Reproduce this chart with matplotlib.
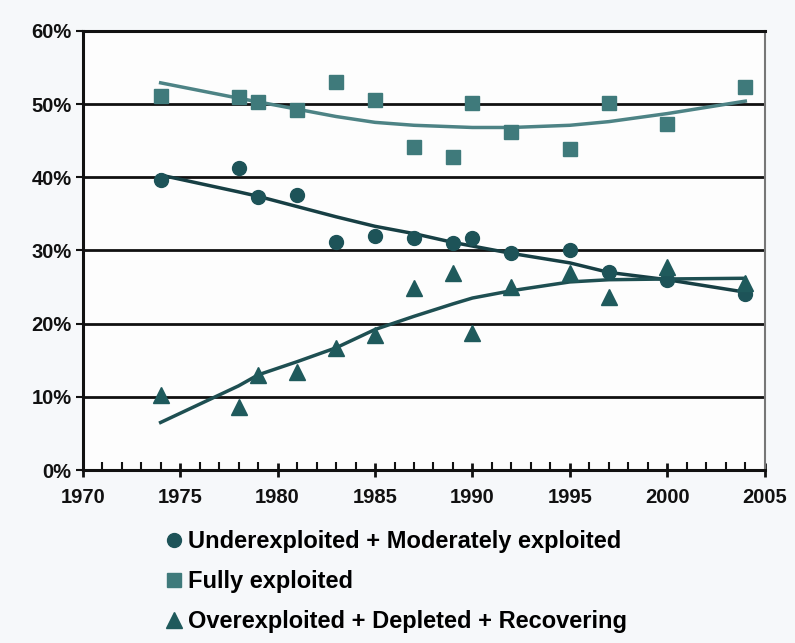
import matplotlib.pyplot as plt
from matplotlib.ticker import MultipleLocator, FuncFormatter
from matplotlib.lines import Line2D

# годы наблюдений
years = [1974, 1978, 1979, 1981, 1983, 1985, 1987, 1989, 1990, 1992, 1995, 1997, 2000, 2004]

# доли запасов, %
under = [39.6, 41.2, 37.3, 37.6, 31.1, 32.0, 31.7, 31.0, 31.7, 29.6, 30.0, 27.0, 26.0, 24.0]
fully = [51.1, 51.0, 50.3, 49.2, 53.0, 50.6, 44.2, 42.8, 50.2, 46.2, 43.9, 50.2, 47.3, 52.3]
over = [10.2, 8.6, 13.0, 13.4, 16.7, 18.4, 24.9, 26.9, 18.7, 25.0, 26.9, 23.6, 27.7, 25.6]

# линии тренда
under_trend = [40.3, 38.0, 37.4, 36.0, 34.6, 33.3, 32.3, 31.1, 30.6, 29.6, 28.3, 27.0, 26.0, 24.3]
fully_trend = [52.9, 50.8, 50.3, 49.3, 48.3, 47.5, 47.1, 46.9, 46.8, 46.8, 47.1, 47.6, 48.7, 50.4]
over_trend = [6.5, 11.5, 13.0, 14.8, 16.7, 19.2, 21.0, 22.7, 23.5, 24.5, 25.7, 26.0, 26.1, 26.2]

labels = ['Underexploited + Moderately exploited',
          'Fully exploited',
          'Overexploited + Depleted + Recovering']

c_under = '#1d5358'
c_fully = '#3f7a7b'
c_over = '#1f5a5c'

plt.rcParams['font.family'] = ['Liberation Sans', 'DejaVu Sans']

fig = plt.figure(figsize=(7.95, 6.43), dpi=100, facecolor='#f6f8fa')
ax = fig.add_axes([0.104, 0.269, 0.858, 0.683])
ax.set_facecolor('#fdfdfd')

# тренды
ax.plot(years, fully_trend, color='#4d8385', lw=2.5, zorder=2)
ax.plot(years, under_trend, color='#173f44', lw=2.5, zorder=2)
ax.plot(years, over_trend, color='#1e4f52', lw=2.5, zorder=2)

# точки
ax.plot(years, under, 'o', color=c_under, ms=10, zorder=3)
ax.plot(years, fully, 's', color=c_fully, ms=10, zorder=3)
ax.plot(years, over, '^', color=c_over, ms=11, zorder=3)

ax.set_xlim(1970, 2005)
ax.set_ylim(0, 60)
ax.yaxis.set_major_locator(MultipleLocator(10))
ax.yaxis.set_major_formatter(FuncFormatter(lambda v, p: f'{v:.0f}%'))
ax.xaxis.set_major_locator(MultipleLocator(5))
ax.xaxis.set_minor_locator(MultipleLocator(1))
ax.grid(axis='y', color='#111111', lw=2, zorder=1)

for s in ['left', 'bottom', 'top']:
    ax.spines[s].set_color('#111111')
    ax.spines[s].set_linewidth(2.2)
ax.spines['right'].set_color('#777777')
ax.spines['right'].set_linewidth(1.5)

ax.tick_params(axis='x', which='major', direction='inout', length=10, width=2,
               labelsize=14.5, pad=8, colors='#111111')
ax.tick_params(axis='x', which='minor', direction='in', length=6, width=1.5, colors='#111111')
ax.tick_params(axis='y', direction='out', length=5, width=1.5, labelsize=14.5,
               pad=3, colors='#111111')
for t in ax.get_xticklabels() + ax.get_yticklabels():
    t.set_fontweight('bold')

handles = [Line2D([], [], ls='', marker='o', color=c_under, ms=10),
           Line2D([], [], ls='', marker='s', color=c_fully, ms=10),
           Line2D([], [], ls='', marker='^', color=c_over, ms=11)]
fig.legend(handles, labels, loc='upper left', bbox_to_anchor=(0.198, 0.19),
           frameon=False, prop={'size': 17, 'weight': 'bold'}, handlelength=0.6,
           handletextpad=0.3, labelspacing=0.72, borderaxespad=0)

fig.savefig('out.png', dpi=100, facecolor=fig.get_facecolor())
